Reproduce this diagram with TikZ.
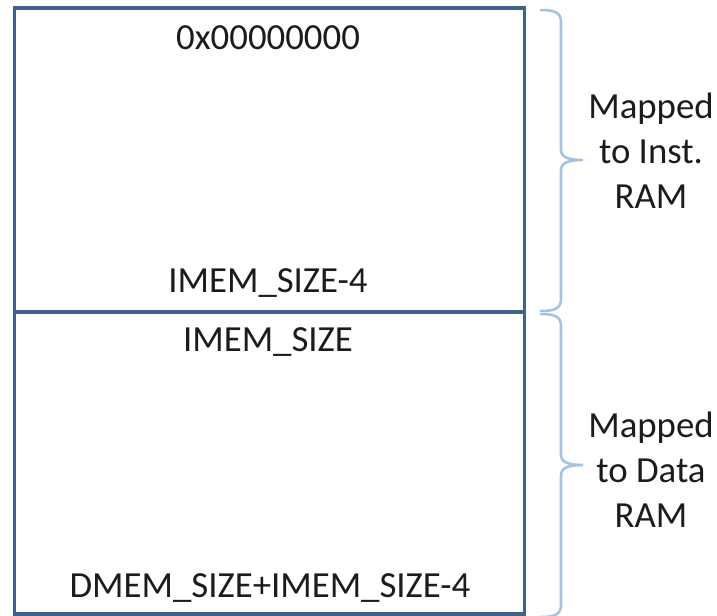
\documentclass[tikz,border=0pt]{standalone}
\usepackage{fontspec}
\setmainfont{Carlito}
\definecolor{boxblue}{RGB}{62,97,142}
\definecolor{bracelight}{RGB}{160,195,230}
\definecolor{ink}{RGB}{28,28,28}
\tikzset{
  membox/.style={draw=boxblue, line width=2.3pt},
  addr/.style={font=\fontsize{27.6}{33.75}\selectfont, text=ink, inner sep=0pt, anchor=base},
  regionlabel/.style={font=\fontsize{27.6}{33.75}\selectfont, text=ink, inner sep=0pt, align=center, anchor=base},
  bracestroke/.style={draw=bracelight, line width=1.9pt, line join=round}
}
\begin{document}
\begin{tikzpicture}[x=0.75pt, y=-0.75pt]
  \useasboundingbox (0,0) rectangle (717,615);
  % memory blocks
  \coordinate (tl) at (14.5,8);
  \coordinate (mr) at (524.5,312);
  \coordinate (ml) at (14.5,312);
  \coordinate (br) at (524.5,614);
  \draw[membox] (tl) rectangle (mr);
  \draw[membox] (ml) rectangle (br);
  % addresses
  \node[addr] (a0) at (268,49) {0x00000000};
  \node[addr] (a1) at (268,292) {IMEM\_SIZE-4};
  \node[addr] (a2) at (268,351) {IMEM\_SIZE};
  \node[addr] (a3) at (270,597) {DMEM\_SIZE+IMEM\_SIZE-4};
  % braces
  \coordinate (b1top) at (540,10);
  \coordinate (b1tip) at (583,160);
  \coordinate (b1bot) at (540,311);
  \draw[bracestroke] (b1top) .. controls (554,10) and (561,12) .. (561,22)
     -- (561,150) .. controls (561,157) and (568,160) .. (b1tip)
     (b1tip) .. controls (568,160) and (561,163) .. (561,170)
     -- (561,299) .. controls (561,309) and (554,311) .. (b1bot);
  \coordinate (b2top) at (540,314);
  \coordinate (b2tip) at (583,465);
  \coordinate (b2bot) at (540,617);
  \draw[bracestroke] (b2top) .. controls (554,314) and (561,316) .. (561,326)
     -- (561,455) .. controls (561,462) and (568,465) .. (b2tip)
     (b2tip) .. controls (568,465) and (561,468) .. (561,475)
     -- (561,605) .. controls (561,615) and (554,617) .. (b2bot);
  % region labels (anchored on the baseline of the last line)
  \node[regionlabel] (l1) at (651,208) {Mapped\\to Inst.\\RAM};
  \node[regionlabel] (l2) at (651,527) {Mapped\\to Data\\RAM};
\end{tikzpicture}
\end{document}
